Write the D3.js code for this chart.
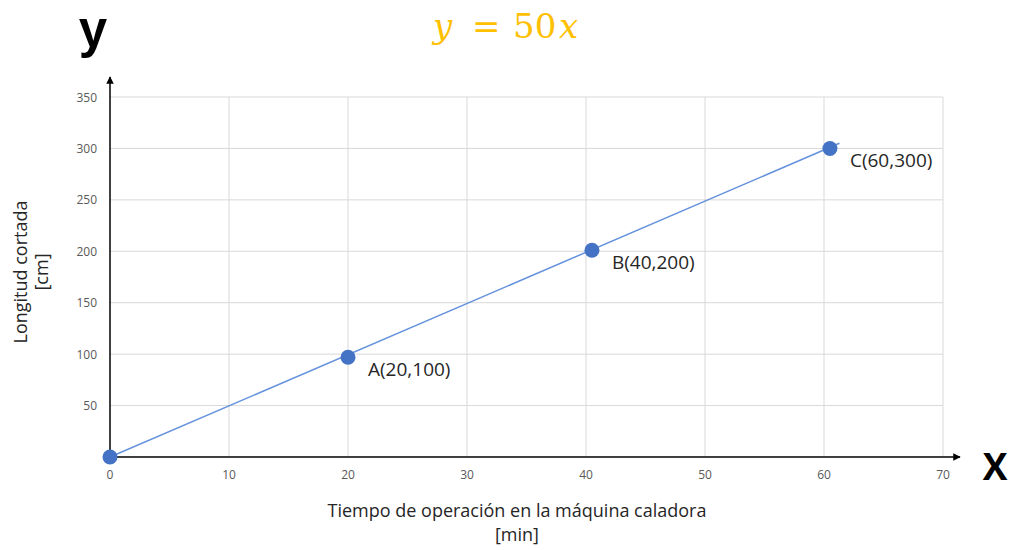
<!DOCTYPE html>
<html>
<head>
<meta charset="utf-8">
<script src="https://cdn.jsdelivr.net/npm/d3@7"></script>
<style>
  body { margin: 0; background: #fff; }
  svg { display: block; }
</style>
</head>
<body>
<svg id="chart" width="1012" height="550"></svg>
<script>
// points
const pointX = [0, 20, 40.5, 60.5];
const pointY = [0, 97, 201, 300];
const pointLabels = ["", "A(20,100)", "B(40,200)", "C(60,300)"];
// line runs a bit past C
const lineX = [0, 61.3];
const lineY = [0, 305];
const xTicks = [0, 10, 20, 30, 40, 50, 60, 70];
const yTicks = [50, 100, 150, 200, 250, 300, 350];

const svg = d3.select("#chart");
const font = "'Open Sans', 'Noto Sans', sans-serif";

const x = d3.scaleLinear().domain([0, 70]).range([110, 943]);
const y = d3.scaleLinear().domain([0, 350]).range([457, 97]);

// grid
svg.append("g")
  .selectAll("line")
  .data(xTicks.slice(1))
  .join("line")
  .attr("x1", d => x(d)).attr("x2", d => x(d))
  .attr("y1", y(350)).attr("y2", y(0))
  .attr("stroke", "#d9d9d9").attr("stroke-width", 1);

svg.append("g")
  .selectAll("line")
  .data(yTicks)
  .join("line")
  .attr("x1", x(0)).attr("x2", x(70))
  .attr("y1", d => y(d)).attr("y2", d => y(d))
  .attr("stroke", "#d9d9d9").attr("stroke-width", 1);

// tick labels
svg.append("g")
  .selectAll("text")
  .data(xTicks)
  .join("text")
  .attr("x", d => x(d)).attr("y", 479)
  .attr("text-anchor", "middle")
  .attr("font-family", font).attr("font-size", 12)
  .attr("fill", "#595959")
  .text(d => d);

svg.append("g")
  .selectAll("text")
  .data(yTicks)
  .join("text")
  .attr("x", 97).attr("y", d => y(d) + 4.5)
  .attr("text-anchor", "end")
  .attr("font-family", font).attr("font-size", 12)
  .attr("fill", "#595959")
  .text(d => d);

// axes with arrows
svg.append("defs").append("marker")
  .attr("id", "arrow")
  .attr("viewBox", "0 0 10 10")
  .attr("refX", 9).attr("refY", 5)
  .attr("markerWidth", 5).attr("markerHeight", 5)
  .attr("orient", "auto")
  .append("path").attr("d", "M0,0 L10,5 L0,10 z").attr("fill", "#000");

svg.append("line")
  .attr("x1", x(0)).attr("y1", y(0))
  .attr("x2", 960).attr("y2", y(0))
  .attr("stroke", "#000").attr("stroke-width", 1.5)
  .attr("marker-end", "url(#arrow)");

svg.append("line")
  .attr("x1", x(0)).attr("y1", y(0))
  .attr("x2", x(0)).attr("y2", 77)
  .attr("stroke", "#000").attr("stroke-width", 1.5)
  .attr("marker-end", "url(#arrow)");

// the line
const lineData = lineX.map((d, i) => ({ x: d, y: lineY[i] }));
svg.append("path")
  .datum(lineData)
  .attr("fill", "none")
  .attr("stroke", "#6592dc")
  .attr("stroke-width", 1.5)
  .attr("d", d3.line().x(d => x(d.x)).y(d => y(d.y)));

// points
const pts = pointX.map((d, i) => ({ x: d, y: pointY[i], label: pointLabels[i] }));
svg.append("g")
  .selectAll("circle")
  .data(pts)
  .join("circle")
  .attr("cx", d => x(d.x)).attr("cy", d => y(d.y))
  .attr("r", 7.5)
  .attr("fill", "#4472c4");

svg.append("g")
  .selectAll("text")
  .data(pts.filter(d => d.label))
  .join("text")
  .attr("x", d => x(d.x) + 20).attr("y", d => y(d.y) + 19)
  .attr("font-family", font).attr("font-size", 19)
  .attr("fill", "#262626")
  .text(d => d.label);

// axis titles
const xt = svg.append("text")
  .attr("text-anchor", "middle")
  .attr("font-family", font).attr("font-size", 18)
  .attr("fill", "#262626");
xt.append("tspan").attr("x", 517).attr("y", 517).text("Tiempo de operación en la máquina caladora");
xt.append("tspan").attr("x", 517).attr("y", 541).text("[min]");

const yt = svg.append("text")
  .attr("transform", "translate(0,272) rotate(-90)")
  .attr("text-anchor", "middle")
  .attr("font-family", font).attr("font-size", 18)
  .attr("fill", "#262626");
yt.append("tspan").attr("x", 0).attr("y", 27).text("Longitud cortada");
yt.append("tspan").attr("x", 0).attr("y", 48).text("[cm]");

// big axis letters
svg.append("text")
  .attr("x", 93).attr("y", 47)
  .attr("text-anchor", "middle")
  .attr("font-family", "'Liberation Sans', sans-serif").attr("font-size", 51).attr("font-weight", "bold")
  .attr("fill", "#000")
  .text("y");

svg.append("text")
  .attr("x", 995).attr("y", 480)
  .attr("text-anchor", "middle")
  .attr("font-family", font).attr("font-size", 37).attr("font-weight", "bold")
  .attr("fill", "#000")
  .text("X");

// equation
const eq = svg.append("text")
  .attr("y", 38)
  .attr("font-family", "'DejaVu Serif', serif").attr("font-size", 34)
  .attr("fill", "#ffc000");
eq.append("tspan").attr("x", 433).attr("font-style", "italic").text("y");
eq.append("tspan").attr("x", 472).text("=");
eq.append("tspan").attr("x", 513).text("50");
eq.append("tspan").attr("x", 559).attr("font-style", "italic").text("x");
</script>
</body>
</html>
